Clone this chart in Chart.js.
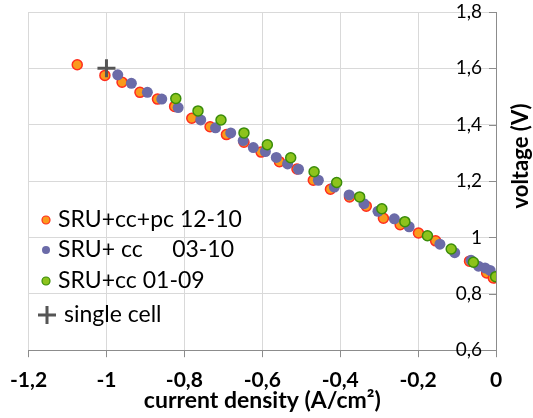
<!DOCTYPE html>
<html>
<head>
<meta charset="utf-8">
<script src="https://cdn.jsdelivr.net/npm/chart.js@4.4.0/dist/chart.umd.min.js"></script>
<style>
  html, body { margin: 0; padding: 0; background: #fff; }
  #wrap { width: 533px; height: 418px; }
</style>
</head>
<body>
<div id="wrap"><canvas id="myChart"></canvas></div>
<script>
// series values (current density A/cm2, voltage V)
var labels = ['SRU+cc+pc 12-10', 'SRU+ cc     03-10', 'SRU+cc 01-09', 'single cell'];

var pcX = [-1.075, -1.004, -0.960, -0.914, -0.869, -0.825, -0.781, -0.734, -0.692, -0.647, -0.603, -0.556,
           -0.511, -0.469, -0.425, -0.376, -0.333, -0.289, -0.246, -0.199, -0.155, -0.068, -0.024, -0.007];
var pcY = [1.613, 1.575, 1.551, 1.515, 1.491, 1.465, 1.423, 1.393, 1.365, 1.338, 1.303, 1.269,
           1.243, 1.203, 1.171, 1.144, 1.111, 1.068, 1.045, 1.016, 0.988, 0.916, 0.874, 0.856];

var ccX = [-0.971, -0.936, -0.895, -0.858, -0.816, -0.758, -0.720, -0.681, -0.649, -0.623, -0.592, -0.564, -0.535, -0.507,
           -0.456, -0.415, -0.377, -0.339, -0.303, -0.261, -0.223, -0.144, -0.106, -0.064, -0.045, -0.028, -0.015];
var ccY = [1.577, 1.547, 1.515, 1.491, 1.461, 1.417, 1.389, 1.371, 1.344, 1.319, 1.305, 1.284, 1.261, 1.242,
           1.203, 1.179, 1.151, 1.120, 1.093, 1.066, 1.038, 0.976, 0.946, 0.919, 0.898, 0.892, 0.883];

var oldX = [-0.822, -0.765, -0.706, -0.647, -0.587, -0.527, -0.467, -0.409, -0.350, -0.293, -0.234, -0.176, -0.115, -0.058, -0.001];
var oldY = [1.493, 1.449, 1.417, 1.371, 1.329, 1.283, 1.233, 1.195, 1.144, 1.102, 1.056, 1.006, 0.959, 0.912, 0.861];

var cellX = [-1.0];
var cellY = [1.6];

var xTicks = [-1.2, -1, -0.8, -0.6, -0.4, -0.2, 0];
var yTicks = [0.6, 0.8, 1, 1.2, 1.4, 1.6, 1.8];

function pts(xs, ys) {
  var out = [];
  for (var i = 0; i < xs.length; i++) out.push({x: xs[i], y: ys[i]});
  return out;
}

function fmt(v) {
  return String(Math.round(v * 10) / 10).replace('.', ',');
}

var FONT = 'Lato, "Open Sans", sans-serif';

// legend (inside plot, bottom-left), inward y ticks and y title drawn by hand
var extras = {
  id: 'extras',
  afterDraw: function(chart) {
    var ctx = chart.ctx;
    var ds = chart.data.datasets;
    var rows = [220, 250, 281, 315];
    ctx.save();

    // small inward tick marks on the right axis
    var ys = chart.scales.y;
    ctx.strokeStyle = '#8C8C8C';
    ctx.lineWidth = 1;
    ctx.beginPath();
    ys.ticks.forEach(function(t) {
      var py = Math.round(ys.getPixelForValue(t.value)) + 0.5;
      ctx.moveTo(ys.left - 7, py);
      ctx.lineTo(ys.left, py);
    });
    ctx.stroke();

    ctx.font = '23px ' + FONT;
    ctx.textBaseline = 'middle';
    for (var i = 0; i < ds.length; i++) {
      var y = rows[i];
      if (i < 3) {
        ctx.beginPath();
        ctx.arc(46, y, 4, 0, Math.PI * 2);
        ctx.fillStyle = ds[i].backgroundColor;
        ctx.fill();
        if (ds[i].borderWidth) {
          ctx.lineWidth = 1.2;
          ctx.strokeStyle = ds[i].borderColor;
          ctx.stroke();
        }
        ctx.fillStyle = '#000';
        ctx.fillText(labels[i], 58, y);
      } else {
        ctx.strokeStyle = ds[i].borderColor;
        ctx.lineWidth = 3;
        ctx.beginPath();
        ctx.moveTo(38, y); ctx.lineTo(56, y);
        ctx.moveTo(47, y - 9); ctx.lineTo(47, y + 9);
        ctx.stroke();
        ctx.fillStyle = '#000';
        ctx.fillText(labels[i], 64, y);
      }
    }
    // y title reads bottom to top
    ctx.translate(521, 156);
    ctx.rotate(-Math.PI / 2);
    ctx.font = 'bold 22px ' + FONT;
    ctx.textAlign = 'center';
    ctx.fillStyle = '#000';
    ctx.fillText('voltage (V)', 0, 0);
    ctx.restore();
  }
};

const ctx = document.getElementById('myChart').getContext('2d');
const myChart = new Chart(ctx, {
  type: 'scatter',
  data: {
    datasets: [{
      label: labels[0],
      data: pts(pcX, pcY),
      backgroundColor: '#FA9A1C',
      borderColor: '#FF2D1E',
      borderWidth: 1.5,
      pointRadius: 5,
      order: 4
    }, {
      label: labels[1],
      data: pts(ccX, ccY),
      backgroundColor: '#6B6BA8',
      borderColor: '#6B6BA8',
      borderWidth: 0,
      pointRadius: 5.5,
      order: 3
    }, {
      label: labels[2],
      data: pts(oldX, oldY),
      backgroundColor: '#8DC31C',
      borderColor: '#3A8C0A',
      borderWidth: 1.5,
      pointRadius: 5,
      order: 2
    }, {
      label: labels[3],
      data: pts(cellX, cellY),
      pointStyle: 'cross',
      backgroundColor: '#555',
      borderColor: '#555',
      borderWidth: 3,
      pointRadius: 9,
      order: 1
    }]
  },
  options: {
    responsive: true,
    maintainAspectRatio: false,
    animation: false,
    layout: { padding: { left: -4, right: 37, top: 6, bottom: 4 } },
    plugins: {
      legend: { display: false },
      tooltip: { enabled: false }
    },
    scales: {
      x: {
        type: 'linear',
        min: -1.2,
        max: 0,
        afterBuildTicks: function(axis) { axis.ticks = xTicks.map(function(v) { return {value: v}; }); },
        grid: { color: '#D9D9D9', tickColor: '#8C8C8C', tickLength: 7 },
        border: { color: '#8C8C8C' },
        ticks: {
          color: '#000',
          font: { family: FONT, size: 21, weight: 'bold' },
          padding: 10,
          maxRotation: 0,
          callback: function(v) { return fmt(v); }
        },
        title: {
          display: true,
          text: 'current density (A/cm²)',
          color: '#000',
          font: { family: FONT, size: 23, weight: 'bold' },
          padding: { top: -16, bottom: 0 }
        }
      },
      y: {
        type: 'linear',
        position: 'right',
        min: 0.6,
        max: 1.8,
        afterBuildTicks: function(axis) { axis.ticks = yTicks.map(function(v) { return {value: v}; }); },
        grid: { color: '#D9D9D9', drawTicks: false },
        border: { color: '#8C8C8C' },
        ticks: {
          mirror: true,
          color: '#000',
          font: { family: FONT, size: 19 },
          padding: -14,
          callback: function(v) { return fmt(v); }
        }
      }
    }
  },
  plugins: [extras]
});
</script>
</body>
</html>
